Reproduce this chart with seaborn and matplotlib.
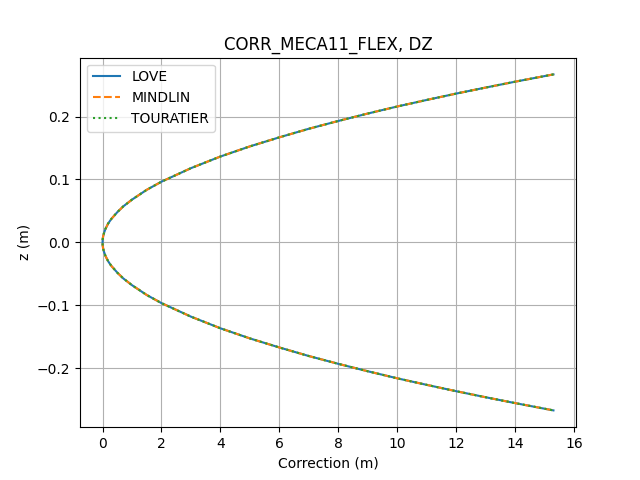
import numpy as np
import matplotlib
matplotlib.use("Agg")
import matplotlib.pyplot as plt
import seaborn as sns

# values (upper branch, z >= 0)
z_upper = [0.267, 0.2554, 0.2461, 0.2365, 0.2264, 0.216, 0.2048, 0.193, 0.1806, 0.167,
           0.1526, 0.1365, 0.118, 0.0965, 0.0836, 0.068, 0.0571, 0.048, 0.0374, 0.0341,
           0.030, 0.0216, 0.015, 0.0097, 0.005, 0.0]
corr_upper = [15.3, 14.0, 13.0, 12.0, 11.0, 10.0, 9.0, 8.0, 7.0, 6.0,
              5.0, 4.0, 3.0, 2.0, 1.5, 1.0, 0.7, 0.5, 0.3, 0.25,
              0.19, 0.1, 0.05, 0.02, 0.005, 0.0]

# full curve: upper branch then mirrored lower branch
z = z_upper + [-v for v in z_upper[::-1][1:]]
corr = corr_upper + corr_upper[::-1][1:]

models = ["LOVE", "MINDLIN", "TOURATIER"]
styles = ["-", "--", ":"]
colors = ["#1f77b4", "#ff7f0e", "#2ca02c"]

fig, ax = plt.subplots(figsize=(6.4, 4.8), dpi=100)
for name, ls, c in zip(models, styles, colors):
    sns.lineplot(x=corr, y=z, sort=False, estimator=None, ax=ax,
                 label=name, linestyle=ls, color=c, linewidth=1.5)

ax.set_title("CORR_MECA11_FLEX, DZ")
ax.set_xlabel("Correction (m)")
ax.set_ylabel("z (m)")
ax.grid(True)
ax.legend(loc="upper left")
fig.savefig("out.png")
